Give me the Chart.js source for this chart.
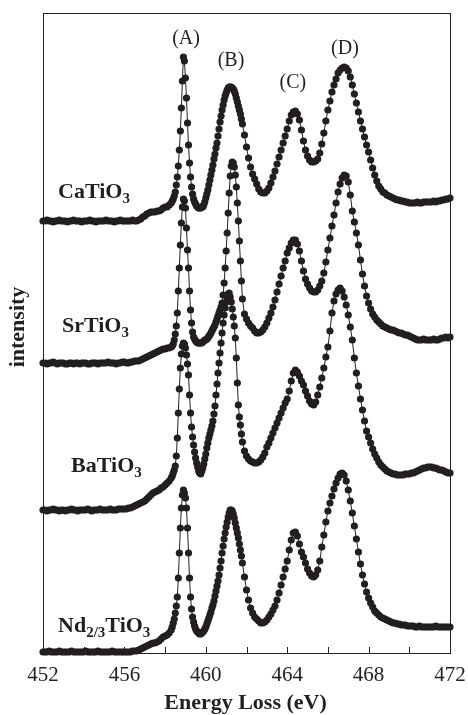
<!DOCTYPE html>
<html>
<head>
<meta charset="utf-8">
<title>Ti L2,3 ELNES</title>
<script src="https://cdn.jsdelivr.net/npm/chart.js@4.4.0/dist/chart.umd.min.js"></script>
<style>
body{margin:0;background:#fff;}
canvas{display:block;}
</style>
</head>
<body>
<canvas id="espectros" width="468" height="715"></canvas>
<script>
// energy grid: 0.1 eV steps, 0.05 eV between 458.3 and 461.8
var energias = [];
for (var k = 0; k <= 400; k++) {
	if (k % 2 === 0 || (k >= 126 && k <= 196)) energias.push(+(452 + k * 0.05).toFixed(2));
}

var muestras = ["CaTiO3", "SrTiO3", "BaTiO3", "Nd2/3TiO3"];
var ticksX = [452, 456, 460, 464, 468, 472];
var picos = ["(A)", "(B)", "(C)", "(D)"];

// intensities (arb. units, spectra already offset), one row per eV
var caTiO3 = [
432,432,433,432,432,431,432,432,433,432,
432,432,431,432,432,433,432,432,432,431,
432,432,432,433,432,432,431,432,432,432,
432,433,432,432,432,431,432,432,433,432,
432,432,432,432,433,432,432,433,434,436,
437,439,440,441,441,441,442,442,443,445,
446,446,448,450,452,454,457,461,468,476,487,503,522,545,572,596,592,
575,555,530,508,490,476,466,459,454,451,449,447,446,445,445,445,446,446,448,451,
455,459,463,468,473,478,483,488,494,499,505,510,517,524,531,537,543,548,553,557,
560,563,565,566,566,566,565,564,562,559,555,551,547,543,539,534,529,518,
506,495,486,479,474,469,464,461,460,460,
462,465,470,476,482,489,496,503,510,517,
524,532,538,541,542,539,533,523,512,503,
497,493,491,491,492,494,500,509,520,532,
543,552,561,568,574,580,583,585,586,585,
582,576,568,559,550,541,532,524,516,508,
501,493,485,478,472,467,464,461,460,458,
457,456,455,454,453,453,452,452,451,451,
450,450,450,450,451,450,450,451,451,451,
451,451,452,451,452,452,453,453,454,454,
455];

var srTiO3 = [
290,290,289,290,290,291,290,289,290,290,
290,289,289,290,290,289,290,290,289,290,
290,290,289,289,290,290,290,289,290,290,
290,290,291,290,290,290,289,290,290,291,
291,290,290,291,291,292,292,292,293,294,
295,296,297,298,299,300,301,302,303,304,
304,305,305,306,307,309,313,319,327,340,362,385,408,430,446,454,452,
445,425,403,385,362,343,330,321,316,314,312,311,310,310,310,310,310,311,312,313,
313,314,315,317,318,320,322,324,326,328,331,334,337,340,343,346,350,358,370,385,
402,420,440,460,477,487,491,490,486,478,466,450,432,412,392,372,354,339,
334,330,327,325,322,320,320,321,323,326,
330,335,340,346,353,361,369,377,385,392,
400,405,410,413,413,409,402,392,382,374,
369,365,362,361,361,363,367,372,380,391,
403,415,427,438,450,461,469,475,478,477,
471,458,442,431,420,408,393,379,367,357,
350,344,339,336,333,331,329,327,326,325,
324,323,323,322,321,320,320,319,318,318,
317,316,315,314,313,313,313,314,313,313,
313,313,314,313,313,314,315,315,316,315,
316];

var baTiO3 = [
143,143,142,143,143,144,143,143,142,143,
143,142,143,143,144,143,143,142,143,143,
143,143,144,143,142,143,143,143,144,143,
143,143,143,144,143,143,143,144,144,144,
144,144,145,145,146,147,148,149,150,151,
152,154,156,158,160,161,162,163,165,166,
168,170,172,175,177,180,183,187,197,215,240,264,285,299,307,310,309,
305,298,289,278,258,240,226,216,208,201,195,190,186,182,180,179,182,185,189,194,
199,205,210,215,219,223,227,232,239,247,258,269,280,290,300,310,320,330,338,345,
351,356,359,360,356,351,344,336,327,315,295,270,248,236,228,219,211,202,
197,194,192,191,190,190,191,193,196,200,
206,210,215,220,225,230,235,240,245,250,
254,262,272,280,283,281,277,272,268,262,
257,252,249,248,251,258,266,275,285,296,
306,322,340,352,359,363,365,362,356,348,
338,326,313,295,280,267,254,243,232,222,
216,210,204,199,195,191,188,186,184,182,
181,180,179,179,178,178,178,178,179,179,
179,180,180,181,182,183,184,185,185,186,
186,186,185,185,184,183,183,182,181,180,
180];

var ndTiO3 = [
1,1,1,2,1,1,1,1,2,1,
1,1,1,1,2,1,1,1,1,1,
1,2,1,1,1,1,1,2,1,1,
1,1,1,1,2,1,1,1,1,1,
1,1,1,1,2,2,2,3,4,5,
6,7,8,9,10,10,11,12,14,16,
17,18,20,23,26,30,34,40,47,56,75,100,125,145,158,163,160,
155,145,125,100,75,56,44,36,31,27,24,22,21,20,19,19,20,21,22,24,
26,29,32,35,38,41,45,48,52,57,62,67,72,78,85,92,100,107,114,120,
126,131,136,140,143,143,142,139,135,130,125,120,115,109,103,97,90,76,
63,53,45,40,36,34,32,30,30,31,
33,36,39,43,47,53,60,68,76,84,
92,103,113,120,121,117,109,101,96,90,
84,80,77,76,78,83,92,106,118,131,
142,150,157,164,170,175,179,180,178,172,
163,152,140,127,114,101,89,78,69,61,
55,50,46,42,40,38,36,35,34,33,
32,31,30,30,29,29,28,28,28,27,
27,27,27,26,26,27,26,26,26,26,
26,26,26,27,26,26,26,26,26,26,
26];

var tinta = "#231f20";
var series = [caTiO3, srTiO3, baTiO3, ndTiO3];
var conjuntos = [];
for (var s = 0; s < series.length; s++) {
	var puntos = [];
	for (var i = 0; i < energias.length; i++) {
		puntos.push({x: energias[i], y: series[s][i]});
	}
	conjuntos.push({
		label: muestras[s],
		data: puntos,
		borderColor: tinta,
		borderWidth: 1,
		pointRadius: 3.6,
		pointHoverRadius: 3.6,
		pointBackgroundColor: tinta,
		pointBorderWidth: 0,
		tension: 0,
		clip: false
	});
}

// sample names split into normal / subscript pieces
var formulas = [["CaTiO", "3"], ["SrTiO", "3"], ["BaTiO", "3"], ["Nd", "2/3", "TiO", "3"]];
var formulaE = [452.74, 452.93, 453.38, 452.74];
var formulaH = [455, 321, 181, 21];
var picoE = [459.03, 461.24, 464.28, 466.84];
var picoH = [614, 592, 570, 604];

var marco = {
	id: "marco",
	afterDraw: function (chart) {
		var ctx = chart.ctx, a = chart.chartArea;
		var sx = chart.scales.x, sy = chart.scales.y;
		ctx.save();
		ctx.strokeStyle = tinta;
		ctx.lineWidth = 1;
		ctx.strokeRect(Math.round(a.left) + 0.5, Math.round(a.top) + 0.5, Math.round(a.right - a.left), Math.round(a.bottom - a.top));
		ctx.beginPath();
		for (var t = 454; t < 472; t += 2) {
			var px = Math.round(sx.getPixelForValue(t)) + 0.5;
			ctx.moveTo(px, a.bottom);
			ctx.lineTo(px, a.bottom - 6);
		}
		ctx.stroke();

		ctx.fillStyle = tinta;
		ctx.textBaseline = "alphabetic";
		ctx.textAlign = "left";
		for (var m = 0; m < formulas.length; m++) {
			var x = sx.getPixelForValue(formulaE[m]);
			var y = sy.getPixelForValue(formulaH[m]);
			for (var p = 0; p < formulas[m].length; p++) {
				var sub = p % 2 === 1;
				ctx.font = sub ? "bold 15px 'Liberation Serif'" : "bold 22px 'Liberation Serif'";
				ctx.fillText(formulas[m][p], x, sub ? y + 5 : y);
				x += ctx.measureText(formulas[m][p]).width;
			}
		}

		ctx.font = "20px 'Liberation Serif'";
		ctx.textAlign = "center";
		ctx.textBaseline = "middle";
		for (var q = 0; q < picos.length; q++) {
			ctx.fillText(picos[q], sx.getPixelForValue(picoE[q]), sy.getPixelForValue(picoH[q]));
		}

		ctx.font = "bold 22px 'Liberation Serif'";
		ctx.fillText("Energy Loss (eV)", (a.left + a.right) / 2 - 1, 703);
		ctx.translate(18.5, (a.top + a.bottom) / 2 - 6);
		ctx.rotate(-Math.PI / 2);
		ctx.fillText("intensity", 0, 0);
		ctx.restore();
	}
};

new Chart(document.getElementById("espectros").getContext("2d"), {
	type: "line",
	data: {datasets: conjuntos},
	options: {
		responsive: false,
		animation: false,
		devicePixelRatio: 1,
		events: [],
		layout: {autoPadding: false, padding: {left: 43, right: 18, top: 13, bottom: 27}},
		plugins: {legend: {display: false}, tooltip: {enabled: false}},
		scales: {
			x: {
				type: "linear",
				min: ticksX[0],
				max: ticksX[ticksX.length - 1],
				afterBuildTicks: function (scale) {
					scale.ticks = ticksX.map(function (v) { return {value: v}; });
				},
				afterFit: function (scale) {
					scale.paddingLeft = 0;
					scale.paddingRight = 0;
					scale.height = 35;
				},
				ticks: {color: tinta, padding: 10, font: {family: "'Liberation Serif'", size: 21}},
				grid: {display: false, drawTicks: false},
				border: {display: true, color: tinta, width: 1}
			},
			y: {display: false, min: 0, max: 640}
		}
	},
	plugins: [marco]
});
</script>
</body>
</html>
